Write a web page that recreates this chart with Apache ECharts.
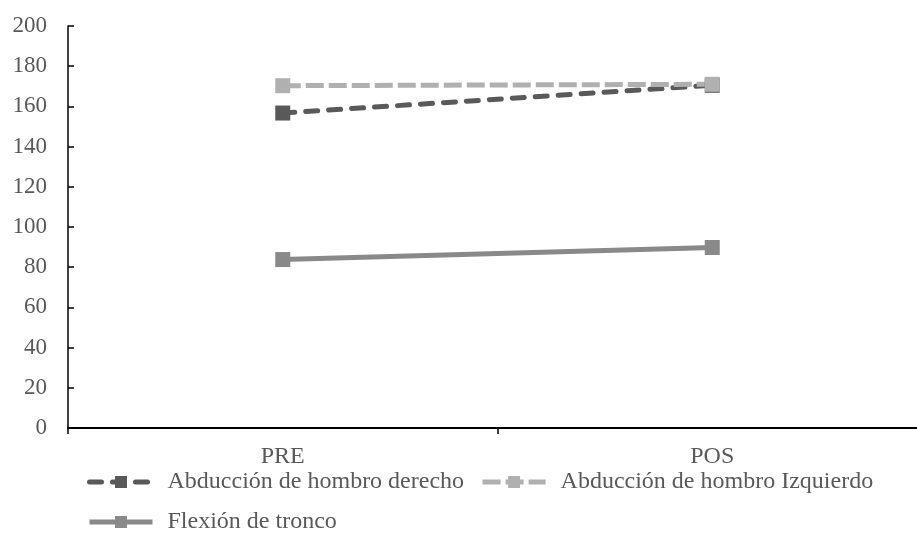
<!DOCTYPE html>
<html>
<head>
<meta charset="utf-8">
<script src="https://cdn.jsdelivr.net/npm/echarts@6/dist/echarts.min.js"></script>
<style>
  html, body { margin: 0; padding: 0; background: #ffffff; overflow: hidden; }
  /* plot area runs slightly past the right edge of the page */
  #chart { width: 927px; height: 559px; }
</style>
</head>
<body>
<div id="chart"></div>
<script>
// Measurement moments
const categories = ['PRE', 'POS'];

// Range of motion values (degrees)
const abduccionDerecho = [156.7, 170.5];
const abduccionIzquierdo = [170.3, 171.0];
const flexionTronco = [83.8, 89.8];

const seriesNames = [
  'Abducción de hombro derecho',
  'Abducción de hombro Izquierdo',
  'Flexión de tronco'
];

const yTicks = { min: 0, max: 200, interval: 20 };

const fontFamily = '"Liberation Serif", "Times New Roman", serif';
const textColor = '#595959';

const chart = echarts.init(document.getElementById('chart'), null, { renderer: 'canvas' });

function lineSeries(name, data, color, dash, cap) {
  return {
    name: name,
    type: 'line',
    data: data,
    symbol: 'rect',
    symbolSize: 15,
    showSymbol: true,
    itemStyle: { color: color },
    lineStyle: {
      color: color,
      width: 5,
      type: dash || 'solid',
      cap: cap || 'butt'
    },
    emphasis: { disabled: true },
    animation: false
  };
}

chart.setOption({
  animation: false,
  grid: { left: 68, right: 0, top: 26, bottom: 131, containLabel: false },
  xAxis: {
    type: 'category',
    data: categories,
    boundaryGap: true,
    axisLine: { lineStyle: { color: '#000000', width: 2 } },
    axisTick: { show: true, inside: false, length: 6, lineStyle: { color: '#000000', width: 1.5 } },
    axisLabel: { color: textColor, fontFamily: fontFamily, fontSize: 24, margin: 17 },
    splitLine: { show: false }
  },
  yAxis: {
    type: 'value',
    min: yTicks.min,
    max: yTicks.max,
    interval: yTicks.interval,
    axisLine: { show: true, lineStyle: { color: '#000000', width: 1.5 } },
    axisTick: { show: true, inside: true, length: 6, lineStyle: { color: '#000000', width: 1.5 } },
    axisLabel: { color: textColor, fontFamily: fontFamily, fontSize: 23, margin: 21 },
    splitLine: { show: false }
  },
  legend: {
    data: seriesNames,
    left: 87,
    top: 470,
    width: 800,
    padding: 0,
    itemWidth: 63,
    itemHeight: 15,
    itemGap: 16,
    lineStyle: { width: 5 },
    textStyle: { color: textColor, fontFamily: fontFamily, fontSize: 24, padding: [0, 4, 0, 10] }
  },
  series: [
    lineSeries(seriesNames[0], abduccionDerecho, '#595959', [12, 11], 'round'),
    lineSeries(seriesNames[1], abduccionIzquierdo, '#b0b0b0', [18, 5], 'butt'),
    lineSeries(seriesNames[2], flexionTronco, '#898989', 'solid', 'butt')
  ]
});
</script>
</body>
</html>
